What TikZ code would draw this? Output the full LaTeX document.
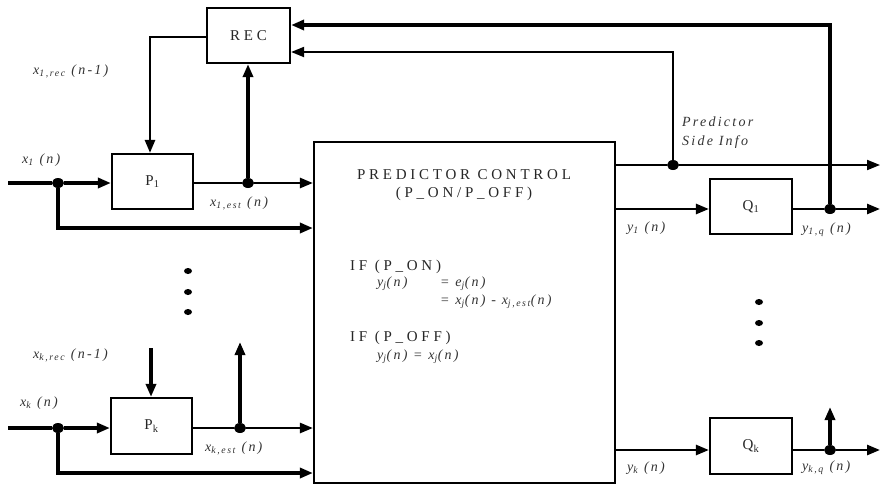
\documentclass[tikz,border=0pt]{standalone}
\usepackage{fontspec}
\setmainfont{Liberation Serif}
\newfontfamily\spc[LetterSpace=25]{Liberation Serif}
\newfontfamily\spl[LetterSpace=16]{Liberation Serif}
\usetikzlibrary{arrows.meta,shapes.geometric}
\begin{document}
\begin{tikzpicture}[x=1pt,y=-1pt,
  box/.style={draw, line width=2.2pt, inner sep=0pt, text=black!85, font=\spc\fontsize{15}{17}\selectfont},
  btxt/.style={inner sep=0pt, text=black!85, font=\spc\fontsize{15}{18}\selectfont},
  lab/.style={inner sep=0pt, anchor=west, text=black!80, font=\spl\itshape\fontsize{14}{19}\selectfont},
  thn/.style={line width=2pt},
  ln/.style={line width=2.6pt},
  thk/.style={line width=3.5pt},
  arr/.style={-{Triangle[length=13pt,width=10pt]}},
  dot/.style={ellipse, fill, inner sep=0pt, minimum width=12pt, minimum height=10pt},
  sdot/.style={ellipse, fill, inner sep=0pt, minimum width=8pt, minimum height=6pt}]
\useasboundingbox (0,0) rectangle (888,488);

% boxes
\node[box, minimum width=83pt, minimum height=55pt] (rec) at (248.5,35.5) {REC};
\node[box, minimum width=81pt, minimum height=55pt] (p1) at (152.5,181.5) {P\textsubscript{1}};
\node[box, minimum width=81pt, minimum height=56pt] (pk) at (151.5,426) {P\textsubscript{k}};
\node[box, minimum width=301pt, minimum height=341pt] (pc) at (464.5,312.5) {};
\node[box, minimum width=82pt, minimum height=55pt] (q1) at (751,206.5) {Q\textsubscript{1}};
\node[box, minimum width=82pt, minimum height=56pt] (qk) at (751,446) {Q\textsubscript{k}};

% coordinates and junctions (branch 1)
\coordinate (in1) at (8,183);
\node[dot] (j1) at (58,183) {};
\coordinate (c1) at (58,228);
\node[dot] (e1) at (248,183) {};
\coordinate (r1) at (150,37);
% branch k
\coordinate (ink) at (8,428);
\node[dot] (jk) at (58,428) {};
\coordinate (ck) at (58,473);
\node[dot] (ek) at (240,428) {};
\coordinate (ekup) at (240,342);
\coordinate (pkin) at (151,348);
% right side
\node[dot] (si) at (673,165) {};
\coordinate (siend) at (880,165);
\coordinate (sitop) at (673,52);
\node[dot] (o1) at (830,209) {};
\coordinate (o1end) at (880,209);
\coordinate (o1top) at (830,25);
\node[dot] (ok) at (830,450) {};
\coordinate (okend) at (880,450);
\coordinate (okup) at (830,407);

% branch 1 connectors
\draw[thk] (in1) -- (j1);
\draw[thk,arr] (j1) -- (j1 -| p1.west);
\draw[thk,arr] (j1) -- (c1) -- (c1 -| pc.west);
\draw[ln] (p1.east |- e1) -- (e1);
\draw[ln,arr] (e1) -- (e1 -| pc.west);
\draw[thk,arr] (e1) -- (e1 |- rec.south);
\draw[ln,arr] (rec.west |- r1) -- (r1) -- (r1 |- p1.north);

% branch k connectors
\draw[thk] (ink) -- (jk);
\draw[thk,arr] (jk) -- (jk -| pk.west);
\draw[thk,arr] (jk) -- (ck) -- (ck -| pc.west);
\draw[ln] (pk.east |- ek) -- (ek);
\draw[ln,arr] (ek) -- (ek -| pc.west);
\draw[thk,arr] (ek) -- (ekup);
\draw[thk,arr] (pkin) -- (pkin |- pk.north);

% right connectors
\draw[thn] (pc.east |- si) -- (si);
\draw[thn,arr] (si) -- (siend);
\draw[thn,arr] (si) -- (sitop) -- (sitop -| rec.east);
\draw[ln,arr] (pc.east |- o1) -- (o1 -| q1.west);
\draw[ln] (q1.east |- o1) -- (o1);
\draw[ln,arr] (o1) -- (o1end);
\draw[thk,arr] (o1) -- (o1top) -- (o1top -| rec.east);
\draw[ln,arr] (pc.east |- ok) -- (ok -| qk.west);
\draw[ln] (qk.east |- ok) -- (ok);
\draw[ln,arr] (ok) -- (okend);
\draw[thk,arr] (ok) -- (okup);

% ellipsis dots
\node[sdot] (dl1) at (188,271) {};
\node[sdot] (dl2) at (188,292) {};
\node[sdot] (dl3) at (188,312) {};
\node[sdot] (dr1) at (759,302) {};
\node[sdot] (dr2) at (759,323) {};
\node[sdot] (dr3) at (759,343) {};

% labels
\node[lab] (lx1) at (22,160) {x\textsubscript{1} (n)};
\node[lab] (lx1r) at (33,71) {x\textsubscript{1,rec} (n-1)};
\node[lab] (lx1e) at (210,203) {x\textsubscript{1,est} (n)};
\node[lab] (lxk) at (20,403) {x\textsubscript{k} (n)};
\node[lab] (lxkr) at (33,355) {x\textsubscript{k,rec} (n-1)};
\node[lab] (lxke) at (205,448) {x\textsubscript{k,est} (n)};
\node[lab] (ly1) at (627,228) {y\textsubscript{1} (n)};
\node[lab] (ly1q) at (802,230) {y\textsubscript{1,q} (n)};
\node[lab] (lyk) at (627,468) {y\textsubscript{k} (n)};
\node[lab] (lykq) at (802,468) {y\textsubscript{k,q} (n)};
\node[lab, align=left] (lsi) at (682,133) {Predictor\\Side Info};

% text inside predictor control
\node[btxt, align=center] (t1) at (464,185) {PREDICTOR CONTROL\\(P\_ON/P\_OFF)};
\node[btxt, anchor=west] (t2) at (350,267) {IF (P\_ON)};
\node[lab] (t3) at (377,284) {y\textsubscript{j}(n)};
\node[lab] (t4) at (440,284) {= e\textsubscript{j}(n)};
\node[lab] (t5) at (440,302) {= x\textsubscript{j}(n) - x\textsubscript{j,est}(n)};
\node[btxt, anchor=west] (t6) at (350,338) {IF (P\_OFF)};
\node[lab] (t7) at (377,357) {y\textsubscript{j}(n) = x\textsubscript{j}(n)};
\end{tikzpicture}
\end{document}
